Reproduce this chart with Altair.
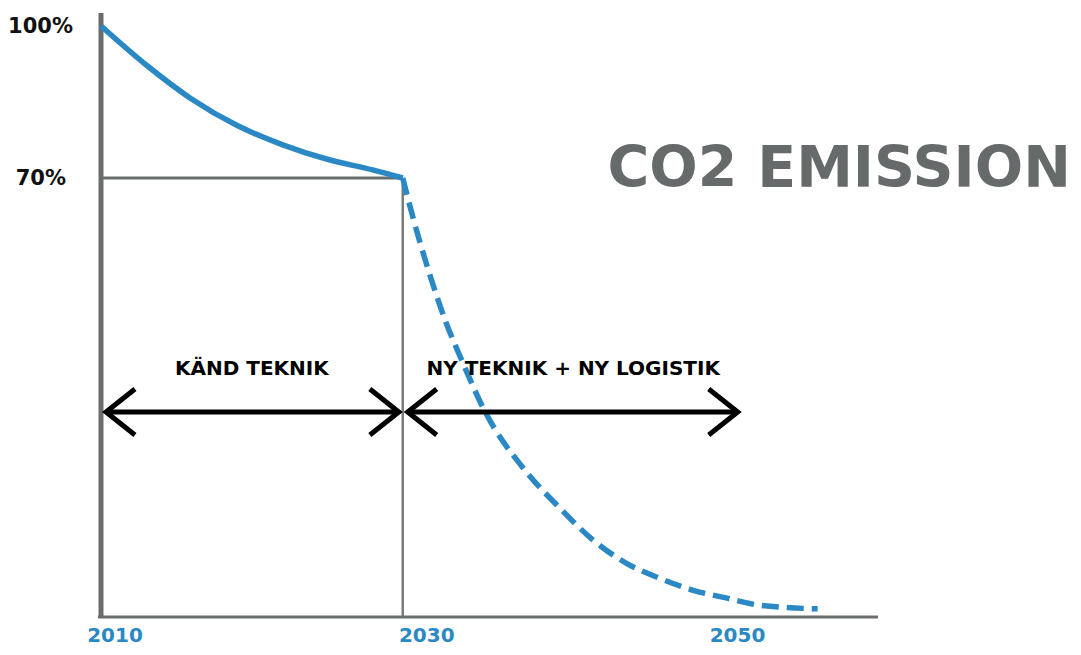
import altair as alt
import pandas as pd

# ---- data ----
solid_years = [2010, 2013, 2016, 2019, 2022, 2025, 2028, 2030]
solid_pct = [100, 92.3, 85.6, 80.4, 76.6, 73.7, 71.6, 70]

dash_years = [2030, 2030.6, 2031.7, 2032.8, 2033.9, 2035.4, 2038.1, 2040.4,
              2042.6, 2044.8, 2047.0, 2049.2, 2051.5, 2053.6, 2057.5]
dash_pct = [70, 64.4, 55.3, 47.4, 41.0, 33.0, 23.4, 17.4,
            12.3, 8.6, 6.2, 4.3, 3.0, 1.9, 1.3]

x_ticks = [2010, 2030, 2050]
y_ticks = [100, 70]

arrow_start = [2010.33, 2030.33]
arrow_end = [2029.74, 2052.2]
arrow_level = 32.7
arrow_labels = ["KÄND TEKNIK", "NY TEKNIK + NY LOGISTIK"]
arrow_label_x = [2020.0, 2041.3]
arrow_label_y = 39.5

title_text = "CO2 EMISSION"

BLUE = "#2a88c5"
GRAY = "#6a6d6d"
FONT = "DejaVu Sans"

X_MIN, X_MAX = 2010, 2061.5
Y_TOP = 102.5
xs = alt.Scale(domain=[X_MIN, X_MAX], nice=False, zero=False)
ys = alt.Scale(domain=[0, 70, 100, Y_TOP], range=[604, 165, 13, 0], nice=False, zero=False)


def X(f):
    return alt.X(f, scale=xs, axis=None)


def Y(f):
    return alt.Y(f, scale=ys, axis=None)


solid_df = pd.DataFrame({"year": solid_years, "pct": solid_pct})
dash_df = pd.DataFrame({"year": dash_years, "pct": dash_pct})

solid = alt.Chart(solid_df).mark_line(
    color=BLUE, strokeWidth=5.5, interpolate="monotone", strokeCap="butt"
).encode(x=X("year:Q"), y=Y("pct:Q"))

dashed = alt.Chart(dash_df).mark_line(
    color=BLUE, strokeWidth=5.5, interpolate="monotone", strokeDash=[17, 8], strokeCap="butt"
).encode(x=X("year:Q"), y=Y("pct:Q"))

# axis lines (drawn on the chart's own scales)
y_axis_line = alt.Chart(pd.DataFrame({"x": [X_MIN], "y": [0], "y2": [Y_TOP]})).mark_rule(
    color=GRAY, strokeWidth=5
).encode(x=X("x:Q"), y=Y("y:Q"), y2="y2:Q")
x_axis_line = alt.Chart(pd.DataFrame({"x": [X_MIN - 0.2], "x2": [X_MAX], "y": [0]})).mark_rule(
    color=GRAY, strokeWidth=3
).encode(x=X("x:Q"), x2="x2:Q", y=Y("y:Q"))

guide_h = alt.Chart(pd.DataFrame({"x": [2010], "x2": [2030], "y": [70]})).mark_rule(
    color=GRAY, strokeWidth=3
).encode(x=X("x:Q"), x2="x2:Q", y=Y("y:Q"))
guide_v = alt.Chart(pd.DataFrame({"x": [2030], "y": [0], "y2": [70]})).mark_rule(
    color="#7a7c7c", strokeWidth=2.5
).encode(x=X("x:Q"), y=Y("y:Q"), y2="y2:Q")

# tick labels
x_label_dx = [14, 24, 33]
x_labels = []
for yr, dx in zip(x_ticks, x_label_dx):
    x_labels.append(
        alt.Chart(pd.DataFrame({"x": [yr], "y": [0], "t": [str(yr)]})).mark_text(
            font=FONT, fontWeight="bold", fontSize=20, color=BLUE,
            align="center", baseline="middle", dx=dx, dy=19
        ).encode(x=X("x:Q"), y=Y("y:Q"), text="t:N")
    )

y_label_dx = [-28, -35]
y_labels = []
for v, dx in zip(y_ticks, y_label_dx):
    y_labels.append(
        alt.Chart(pd.DataFrame({"x": [X_MIN], "y": [v], "t": [f"{v}%"]})).mark_text(
            font=FONT, fontWeight="bold", fontSize=21, color="#111111",
            align="right", baseline="middle", dx=dx, dy=1
        ).encode(x=X("x:Q"), y=Y("y:Q"), text="t:N")
    )

# arrows
arrow_df = pd.DataFrame({"s": arrow_start, "e": arrow_end, "y": [arrow_level] * 2})
shafts = alt.Chart(arrow_df).mark_rule(color="black", strokeWidth=5).encode(
    x=X("s:Q"), x2="e:Q", y=Y("y:Q")
)
left_heads = alt.Chart(arrow_df).mark_point(
    shape="M1.26,-1L0,0L1.26,1", size=2116, filled=False, color="black",
    strokeWidth=5, opacity=1, strokeJoin="miter", strokeCap="butt"
).encode(x=X("s:Q"), y=Y("y:Q"))
right_heads = alt.Chart(arrow_df).mark_point(
    shape="M-1.26,-1L0,0L-1.26,1", size=2116, filled=False, color="black",
    strokeWidth=5, opacity=1, strokeJoin="miter", strokeCap="butt"
).encode(x=X("e:Q"), y=Y("y:Q"))

label_df = pd.DataFrame({"x": arrow_label_x, "y": [arrow_label_y] * 2, "t": arrow_labels})
labels = alt.Chart(label_df).mark_text(
    font=FONT, fontWeight="bold", fontSize=20, color="black",
    align="center", baseline="middle"
).encode(x=X("x:Q"), y=Y("y:Q"), text="t:N")

title = alt.Chart(pd.DataFrame({"t": [title_text]})).mark_text(
    font=FONT, fontWeight="bold", fontSize=57, color="#676a6a",
    align="right", baseline="alphabetic"
).encode(x=alt.value(970), y=alt.value(174), text="t:N")

chart = alt.layer(
    guide_h, guide_v, y_axis_line, x_axis_line, solid, dashed,
    shafts, left_heads, right_heads, labels, title, *x_labels, *y_labels
).properties(
    width=777, height=604,
    autosize=alt.AutoSizeParams(type="none"),
    padding={"left": 93, "top": 5, "right": 195, "bottom": 30},
).configure_view(stroke=None)

chart.save("out.html", embed_options={"renderer": "svg", "actions": False})
